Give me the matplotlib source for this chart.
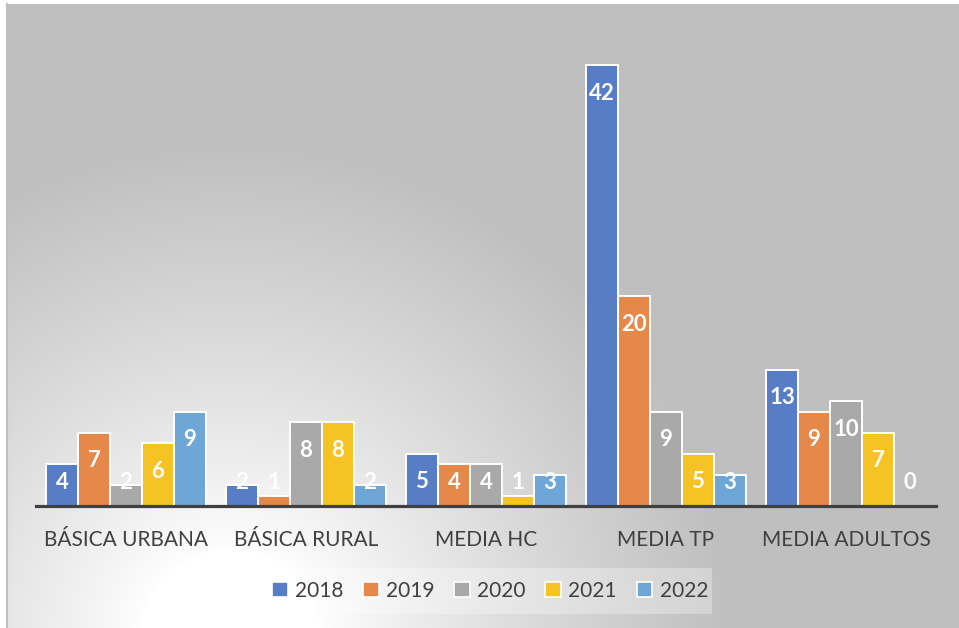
import numpy as np
import matplotlib
matplotlib.use("Agg")
import matplotlib.pyplot as plt
from matplotlib.patches import Patch, Rectangle

categories = ["BÁSICA URBANA", "BÁSICA RURAL", "MEDIA HC", "MEDIA TP", "MEDIA ADULTOS"]
years = ["2018", "2019", "2020", "2021", "2022"]
v2018 = [4, 2, 5, 42, 13]
v2019 = [7, 1, 4, 20, 9]
v2020 = [2, 8, 4, 9, 10]
v2021 = [6, 8, 1, 5, 7]
v2022 = [9, 2, 3, 3, 0]
series = [v2018, v2019, v2020, v2021, v2022]
colors = ["#567DC6", "#E6884A", "#A9A9A9", "#F6C325", "#6EA6D8"]

plt.rcParams['font.family'] = ['Lato', 'DejaVu Sans']

W, H = 959, 628
fig = plt.figure(figsize=(W / 100, H / 100), dpi=100)

# background gradient
bg = fig.add_axes([0, 0, 1, 1])
bg.set_axis_off()
yy, xx = np.mgrid[0:H, 0:W]
d = np.hypot((xx - 230) * 1.0, (yy - 640) * 1.0)
t = np.clip((d - 90) / (500 - 90), 0, 1)
t = t ** 0.85
gray = 191 / 255
img = 1 - t * (1 - gray)
img[:4, :] = 1.0
img[:, :6] = 1.0
rgb = np.dstack([img, img, img])
bg.imshow(rgb, extent=[0, W, H, 0], aspect='auto', interpolation='bilinear')
bg.set_xlim(0, W)
bg.set_ylim(H, 0)
bg.plot([6.5, 6.5], [4, H], color="#BFBFBF", lw=1.5)
# legend background
bg.add_patch(Rectangle((263, 568), 449, 46, facecolor="white", alpha=0.3, edgecolor="none"))

ax = fig.add_axes([36 / W, (H - 506) / H, 900 / W, (506 - 44) / H])
ax.patch.set_alpha(0)
n = len(series)
w = 32 / 180
x = np.arange(len(categories))
for j, (vals, c) in enumerate(zip(series, colors)):
    pos = x + (j - (n - 1) / 2) * w
    ax.bar(pos, vals, width=w, color=c, edgecolor="white", linewidth=1.4, label=years[j], zorder=2)
    for p, v in zip(pos, vals):
        ly = max(v - 2.7, 2.2)
        ax.text(p, ly, str(v), ha='center', va='center', color='white',
                fontsize=16, fontweight='bold', zorder=3)

ax.set_xlim(-0.5, len(categories) - 0.5)
ax.set_ylim(0, 44)
for s in ["top", "right", "left"]:
    ax.spines[s].set_visible(False)
ax.spines["bottom"].set_color("#404040")
ax.spines["bottom"].set_linewidth(2.3)
ax.spines["bottom"].set_zorder(4)
ax.set_yticks([])
ax.set_xticks(x)
ax.set_xticklabels(categories, fontsize=15, color="#404040")
ax.tick_params(axis='x', length=0, pad=17)

handles = [Patch(facecolor=c, edgecolor='white', linewidth=1.2) for c in colors]
fig.legend(handles, years, loc='center', bbox_to_anchor=(490 / W, 1 - 591 / H),
           ncol=5, frameon=False, fontsize=15, handlelength=0.75, handleheight=0.75,
           handletextpad=0.35, columnspacing=0.95, labelcolor="#404040")

fig.savefig("out.png", dpi=100)
